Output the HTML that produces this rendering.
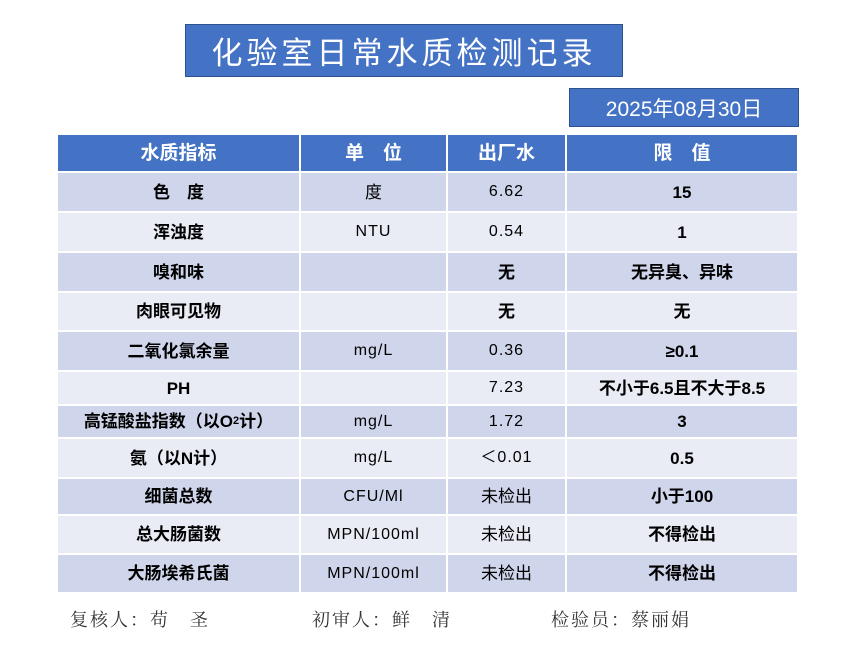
<!DOCTYPE html>
<html><head><meta charset="utf-8"><style>
body{margin:0;width:861px;height:672px;background:#fff;position:relative;overflow:hidden;font-family:"Liberation Sans","Noto Sans CJK SC",sans-serif}
.box{position:absolute;background:#4472C4;border:1px solid #2F528F;color:#fff;box-sizing:border-box;display:flex;align-items:center;justify-content:center}
.c{position:absolute;display:flex;align-items:center;justify-content:center;box-sizing:border-box;font-size:17px;color:#000;line-height:1}
.b{font-weight:bold}
.h{color:#fff;font-weight:bold;font-size:19px}
.m{font-family:"Liberation Sans Narrow","Liberation Sans","Noto Sans CJK SC",sans-serif;font-size:16px;letter-spacing:1px}
.f{position:absolute;top:606px;font-family:"Noto Serif CJK SC",serif;font-size:18px;color:#333;letter-spacing:2px}
sub{font-size:11px;vertical-align:-4px}
</style></head><body>
<div class="box" style="left:185px;top:24px;width:438px;height:53px;font-size:31px;letter-spacing:4px">化验室日常水质检测记录</div>
<div class="box" style="left:569px;top:88px;width:230px;height:39px;font-size:21px">2025年08月30日</div>
<div id="t"></div>
<div class="f" style="left:70px">复核人：苟　圣</div>
<div class="f" style="left:312px">初审人：鲜　清</div>
<div class="f" style="left:551px">检验员：蔡丽娟</div>
<script>
var cols=[58,300,447,566,798];
var rows=[135,172,212,252,292,331,371,405,438,478,515,554,593];
var data=[
["水质指标","单　位","出厂水","限　值"],
["色　度","度","6.62","15"],
["浑浊度","NTU","0.54","1"],
["嗅和味","","无","无异臭、异味"],
["肉眼可见物","","无","无"],
["二氧化氯余量","mg/L","0.36","≥0.1"],
["PH","","7.23","不小于6.5且不大于8.5"],
["高锰酸盐指数（以O<sub>2</sub>计）","mg/L","1.72","3"],
["氨（以N计）","mg/L","＜0.01","0.5"],
["细菌总数","CFU/Ml","未检出","小于100"],
["总大肠菌数","MPN/100ml","未检出","不得检出"],
["大肠埃希氏菌","MPN/100ml","未检出","不得检出"]];
var h="";
for(var r=0;r<data.length;r++){for(var c=0;c<4;c++){
var x=cols[c]+(c?1:0),w=cols[c+1]-x-1,y=rows[r]+(r?1:0),hh=rows[r+1]-y-1;
var bg=r==0?"#4472C4":(r%2?"#CFD5EA":"#E9EBF5");
var cls="c"+(r==0?" h":"");
if(r>0&&(c==0||c==3))cls+=" b";
if(r>0&&c==2&&data[r][c]=="无")cls+=" b";
if(r>0&&(c==1||c==2)&&/[0-9a-zA-Z]/.test(data[r][c]))cls+=" m";
h+='<div class="'+cls+'" style="left:'+x+'px;top:'+y+'px;width:'+w+'px;height:'+hh+'px;background:'+bg+'">'+data[r][c]+'</div>';
}}
document.getElementById("t").innerHTML=h;
</script>
</body></html>
